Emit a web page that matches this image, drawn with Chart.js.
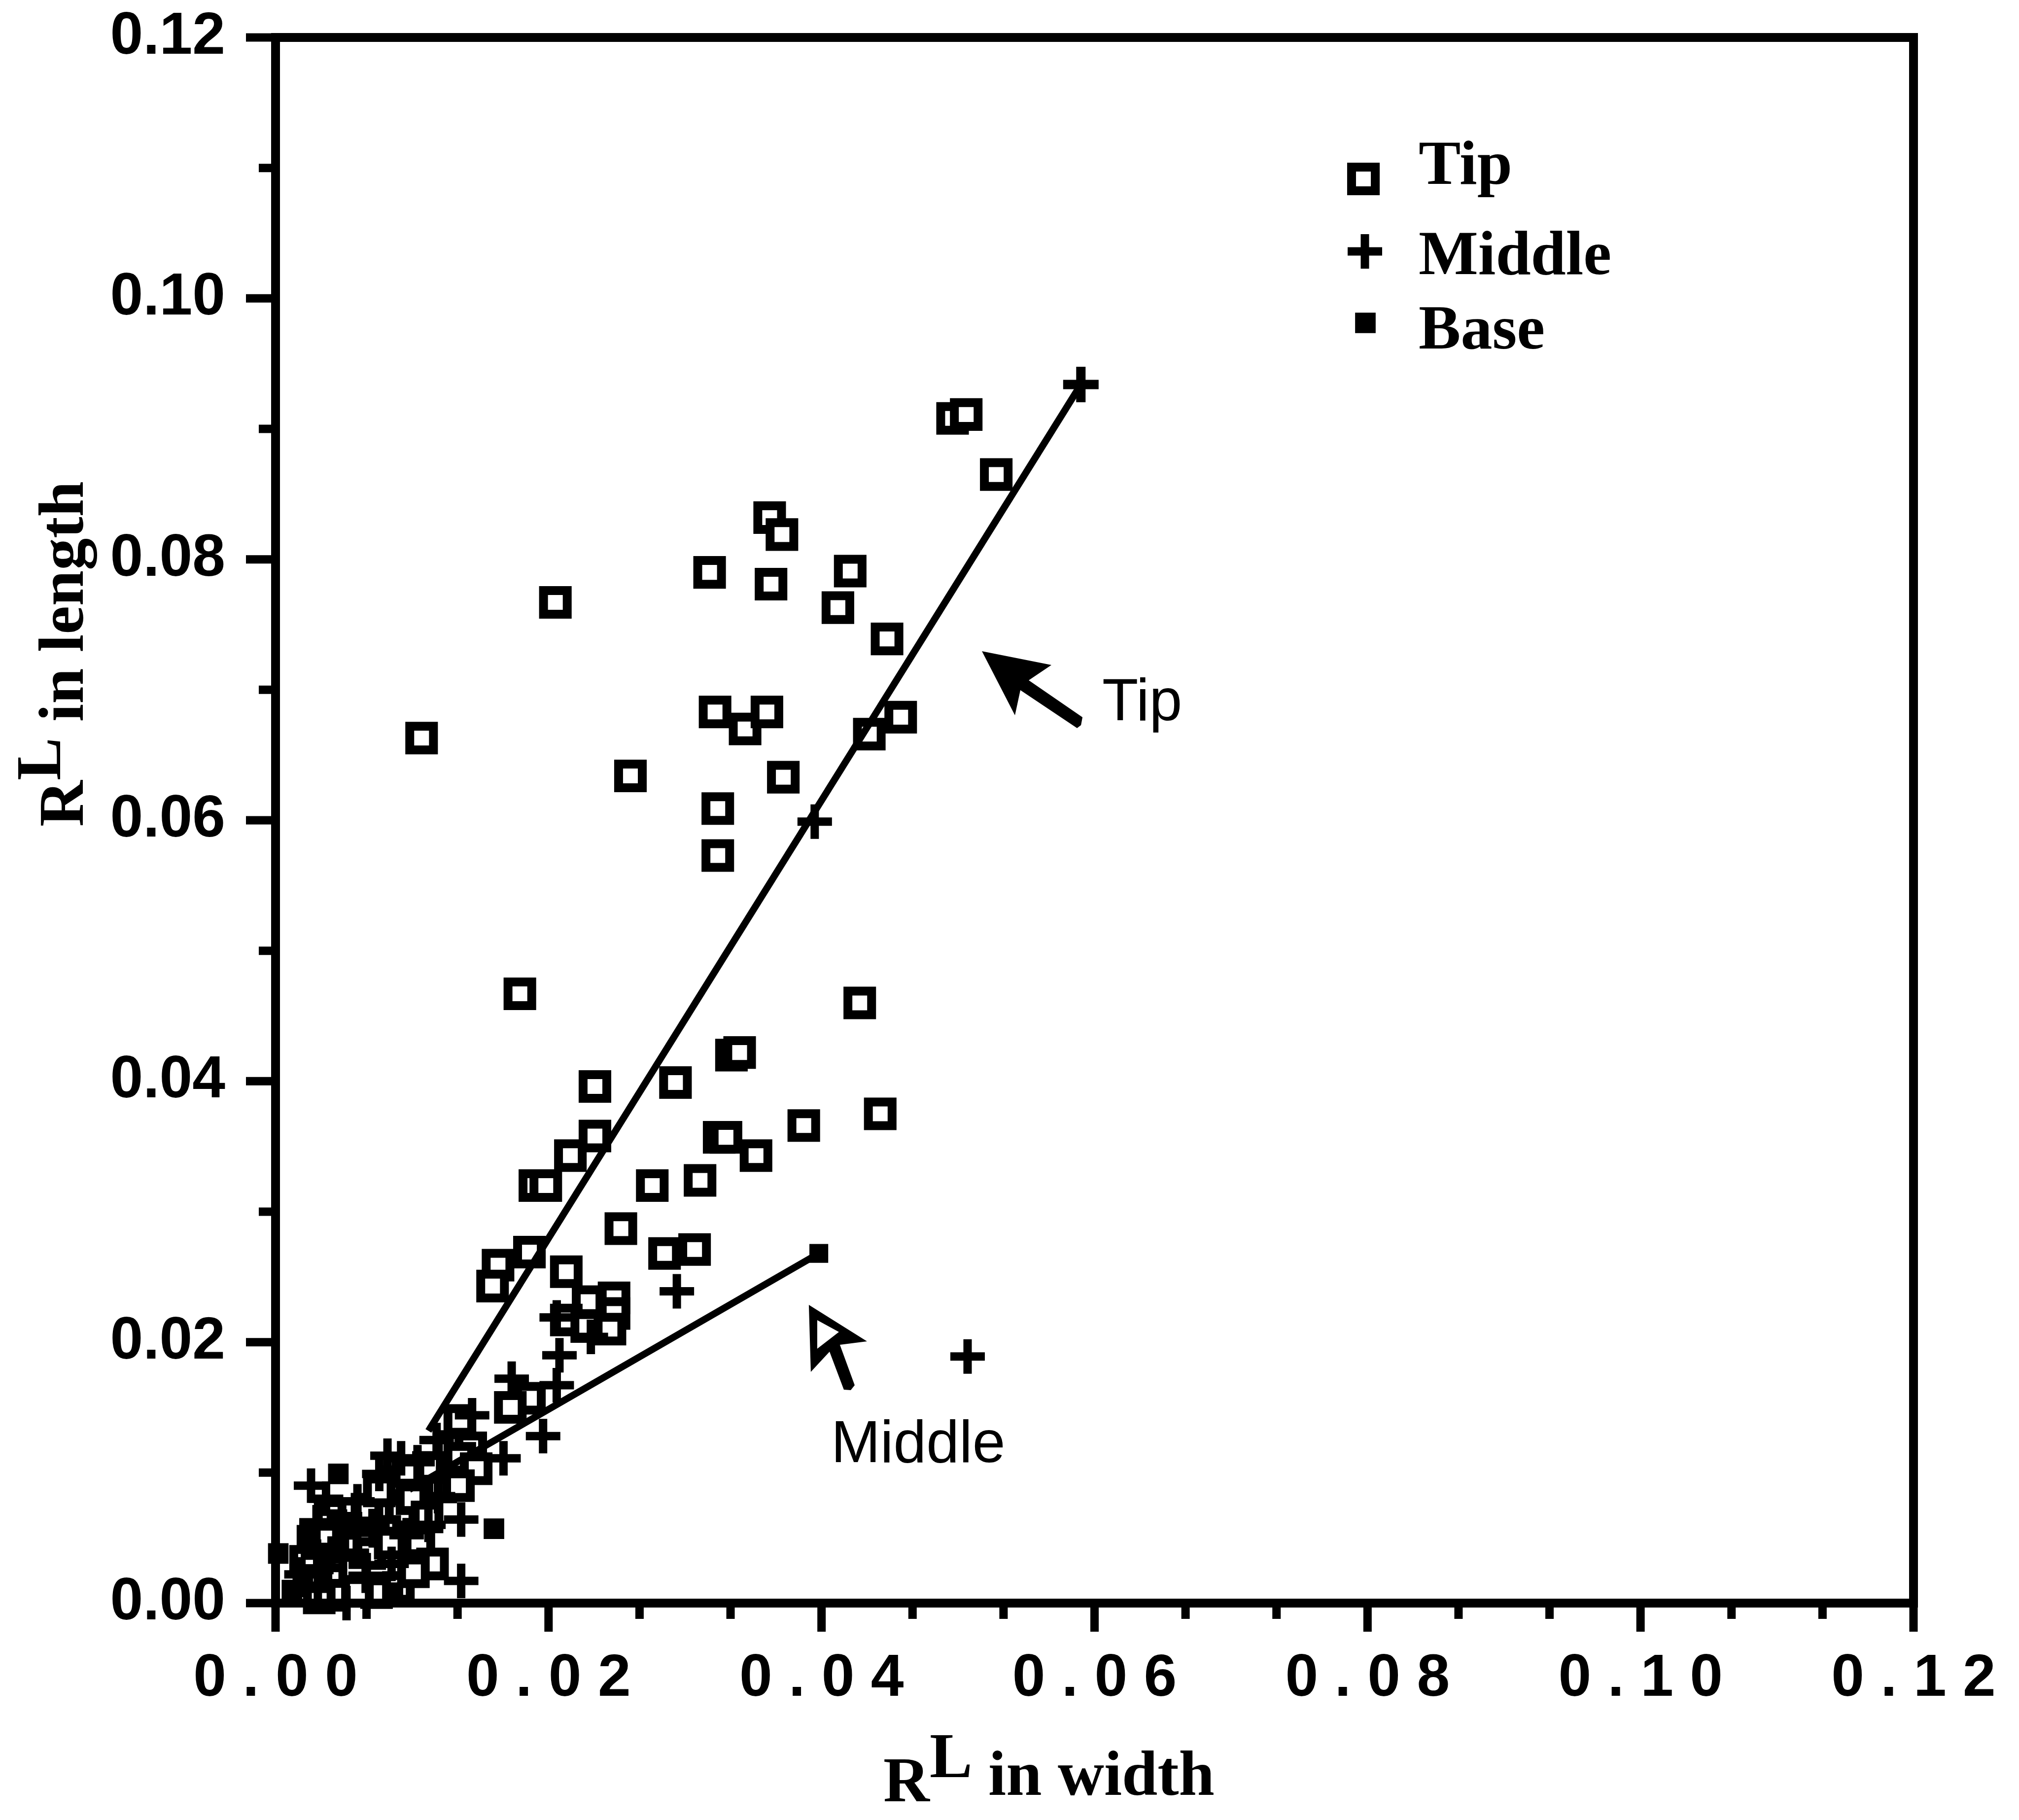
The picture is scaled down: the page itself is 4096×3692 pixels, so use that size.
<!DOCTYPE html>
<html>
<head>
<meta charset="utf-8">
<title>R^L in length vs R^L in width</title>
<script src="https://cdn.jsdelivr.net/npm/chart.js@4.4.1/dist/chart.umd.min.js"></script>
<style>
  html, body { margin: 0; padding: 0; background: #ffffff; }
  #wrap { width: 4096px; height: 3692px; }
  canvas { display: block; }
</style>
</head>
<body>
<div id="wrap"><canvas id="chart" width="4096" height="3692"></canvas></div>
<script>
// ---- R^L measured across the width (x) and along the length (y) ----
const seriesNames = ['Tip', 'Middle', 'Base'];

const tipWidth = [
  0.0107, 0.0205, 0.0318, 0.0362, 0.0371, 0.0363, 0.0421, 0.0412, 0.0448, 0.0496,
  0.0506, 0.0528, 0.0322, 0.0344, 0.0360, 0.0372, 0.0260, 0.0324, 0.0324, 0.0435,
  0.0458, 0.0179, 0.0428, 0.0334, 0.0340, 0.0234, 0.0293, 0.0234, 0.0216, 0.0190,
  0.0198, 0.0325, 0.0330, 0.0352, 0.0387, 0.0443, 0.0276, 0.0311, 0.0253, 0.0285,
  0.0307, 0.0163, 0.0159, 0.0186, 0.0213, 0.0248, 0.0248, 0.0229, 0.0213, 0.0228,
  0.0245, 0.0186, 0.0172, 0.0135, 0.0128, 0.0143, 0.0135, 0.0147, 0.0121, 0.0134,
  0.0089, 0.0092, 0.0067, 0.0105, 0.0064, 0.0051, 0.0042, 0.0069, 0.0027, 0.0047,
  0.0043, 0.0074, 0.0032, 0.0090, 0.0115, 0.0100, 0.0080, 0.0022, 0.0036, 0.0058,
  0.0084, 0.0101, 0.0060, 0.0111, 0.0076, 0.0040, 0.0112, 0.0097
];
const tipLength = [
  0.0663, 0.0767, 0.0790, 0.0832, 0.0819, 0.0781, 0.0791, 0.0763, 0.0739, 0.0908,
  0.0911, 0.0865, 0.0683, 0.0670, 0.0683, 0.0633, 0.0634, 0.0609, 0.0573, 0.0666,
  0.0679, 0.0467, 0.0460, 0.0420, 0.0422, 0.0396, 0.0399, 0.0358, 0.0343, 0.0320,
  0.0320, 0.0357, 0.0357, 0.0343, 0.0366, 0.0375, 0.0320, 0.0324, 0.0287, 0.0268,
  0.0271, 0.0259, 0.0243, 0.0269, 0.0254, 0.0234, 0.0222, 0.0231, 0.0217, 0.0212,
  0.0210, 0.0157, 0.0150, 0.0140, 0.0120, 0.0119, 0.0111, 0.0103, 0.0089, 0.0090,
  0.0093, 0.0069, 0.0072, 0.0047, 0.0045, 0.0043, 0.0045, 0.0038, 0.0017, 0.0018,
  0.0006, 0.0008, 0.0004, 0.0012, 0.0030, 0.0080, 0.0055, 0.0032, 0.0052, 0.0026,
  0.0046, 0.0024, 0.0009, 0.0066, 0.0086, 0.0068, 0.0104, 0.0101
];

const middleWidth = [
  0.0395, 0.0507, 0.0294, 0.0206, 0.0208, 0.0231, 0.0206, 0.0196, 0.0173, 0.0167,
  0.0144, 0.0136, 0.0136, 0.0092, 0.0104, 0.0076, 0.0060, 0.0037, 0.0019, 0.0052,
  0.0112, 0.0085, 0.0030, 0.0118, 0.0041, 0.0071, 0.0026, 0.0096, 0.0066, 0.0031,
  0.0082, 0.0119
];
const middleLength = [
  0.0599, 0.0189, 0.0239, 0.0219, 0.0190, 0.0204, 0.0167, 0.0128, 0.0172, 0.0111,
  0.0144, 0.0064, 0.0017, 0.0111, 0.0108, 0.0099, 0.0078, 0.0080, 0.0022, 0.0000,
  0.0060, 0.0030, 0.0062, 0.0125, 0.0038, 0.0059, 0.0090, 0.0052, 0.0021, 0.0011,
  0.0113, 0.0082
];

const baseWidth  = [0.0002, 0.0046, 0.0023, 0.0160, 0.0020, 0.0035, 0.0056, 0.0012, 0.0045, 0.0061, 0.0026, 0.0086];
const baseLength = [0.0038, 0.0099, 0.0052, 0.0057, 0.0022, 0.0030, 0.0062, 0.0010, 0.0064, 0.0034, 0.0041, 0.0008];

// Fitted trend segments (start, end)
const tipFitWidth     = [0.0112, 0.0590];
const tipFitLength    = [0.0132, 0.0934];
const middleFitWidth  = [0.0098, 0.0398];
const middleFitLength = [0.0087, 0.0268];

const xTickLabels = ['0.00', '0.02', '0.04', '0.06', '0.08', '0.10', '0.12'];
const yTickLabels = ['0.00', '0.02', '0.04', '0.06', '0.08', '0.10', '0.12'];

// Arrow call-outs, anchored at the arrow point (data units)
const arrowNotes = [
  { text: 'Tip',    at: [0.05175, 0.07296], style: 'solid' },
  { text: 'Middle', at: [0.03907, 0.02286], style: 'open' }
];

// ---- layout / style ----
const W = 4096, H = 3692;
const AREA = { left: 559, top: 76, right: 3882, bottom: 3252 };
const AXIS_MIN = 0, AXIS_MAX = 0.12, STEP = 0.02;
const INK = '#000000';
const TICK_FONT = { family: 'Liberation Sans', weight: 'bold', size: 120 };
const SERIF = '"Liberation Serif", "Times New Roman", serif';
const SANS = '"Liberation Sans", Arial, sans-serif';

const pts = (xs, ys) => xs.map((x, i) => ({ x, y: ys[i] }));
const spaced = s => s.split('').join(' ');

// invisible grid ticks only push the labels away from the axis
const hiddenGrid = len => ({
  display: true, drawOnChartArea: false, drawTicks: true, tickLength: len,
  color: 'rgba(0,0,0,0)', tickColor: 'rgba(0,0,0,0)'
});

const chromePlugin = {
  id: 'frameAndNotes',
  afterDatasetsDraw(chart) {
    const { ctx, chartArea: a, scales } = chart;
    const xs = scales.x, ys = scales.y;
    ctx.save();
    ctx.strokeStyle = INK;
    ctx.fillStyle = INK;

    // plot frame
    ctx.lineWidth = 18;
    ctx.lineJoin = 'miter';
    ctx.strokeRect(a.left, a.top, a.right - a.left, a.bottom - a.top);

    // tick marks: x has thirds between labels, y has halves
    ctx.lineWidth = 17;
    ctx.lineCap = 'butt';
    ctx.beginPath();
    const xDiv = 3, yDiv = 2;
    const nX = Math.round((AXIS_MAX - AXIS_MIN) / STEP) * xDiv;
    for (let i = 0; i <= nX; i++) {
      const v = AXIS_MIN + i * STEP / xDiv;
      const p = xs.getPixelForValue(v);
      const len = (i % xDiv === 0) ? 58 : 32;
      ctx.moveTo(p, a.bottom);
      ctx.lineTo(p, a.bottom + len);
    }
    const nY = Math.round((AXIS_MAX - AXIS_MIN) / STEP) * yDiv;
    for (let i = 0; i <= nY; i++) {
      const v = AXIS_MIN + i * STEP / yDiv;
      const p = ys.getPixelForValue(v);
      const len = (i % yDiv === 0) ? 60 : 34;
      ctx.moveTo(a.left, p);
      ctx.lineTo(a.left - len, p);
    }
    ctx.stroke();

    // arrow call-outs
    arrowNotes.forEach(n => {
      const tx = xs.getPixelForValue(n.at[0]);
      const ty = ys.getPixelForValue(n.at[1]);
      const poly = (pts, fill) => {
        ctx.beginPath();
        pts.forEach((p, i) => i ? ctx.lineTo(tx + p[0], ty + p[1]) : ctx.moveTo(tx + p[0], ty + p[1]));
        ctx.closePath();
        ctx.fillStyle = fill;
        ctx.fill();
      };
      ctx.font = `normal 120px ${SANS}`;
      ctx.textAlign = 'left';
      ctx.textBaseline = 'alphabetic';
      if (n.style === 'solid') {
        poly([[0, 0], [141, 28], [95, 59], [204, 134], [201, 150], [193, 156], [78, 79], [67, 130]], INK);
        ctx.fillStyle = INK;
        ctx.fillText(n.text, tx + 244, ty + 140);
      } else {
        poly([[0, 0], [118, 74], [63, 81], [93, 163], [85, 173], [71, 172], [42, 95], [4, 136]], INK);
        poly([[17, 31], [61, 55], [17, 89]], '#ffffff');
        ctx.fillStyle = INK;
        ctx.fillText(n.text, tx + 45, ty + 319);
      }
    });

    // axis titles  (R with superscript L)
    ctx.fillStyle = INK;
    ctx.font = `bold 130px ${SERIF}`;
    ctx.textAlign = 'left';
    ctx.textBaseline = 'alphabetic';
    let cx = 1792;
    ctx.fillText('R', cx, 3654); cx += ctx.measureText('R').width;
    ctx.fillText('L', cx, 3605); cx += ctx.measureText('L').width;
    ctx.fillText(' in width', cx, 3641);

    ctx.save();
    ctx.translate(168, 1677);
    ctx.rotate(-Math.PI / 2);
    let c = 0;
    ctx.fillText('R', c, 0); c += ctx.measureText('R').width;
    ctx.fillText('L', c, -46); c += ctx.measureText('L').width;
    ctx.fillText(' in length', c, 0);
    ctx.restore();

    // legend
    const rows = [
      { mx: 2766, my: 363, ty: 373 },
      { mx: 2769, my: 510, ty: 556 },
      { mx: 2770, my: 655, ty: 707 }
    ];
    rows.forEach((r, i) => {
      const ds = chart.data.datasets.find(d => d.label === seriesNames[i]);
      ctx.save();
      ctx.lineWidth = ds.borderWidth;
      ctx.strokeStyle = ds.borderColor;
      ctx.fillStyle = ds.backgroundColor;
      const opts = { pointStyle: ds.pointStyle, radius: ds.pointRadius, borderWidth: ds.borderWidth, rotation: 0 };
      if (Chart.helpers && Chart.helpers.drawPoint) {
        Chart.helpers.drawPoint(ctx, opts, r.mx, r.my);
      }
      ctx.restore();
      ctx.fillStyle = INK;
      ctx.font = `bold 128px ${SERIF}`;
      ctx.fillText(seriesNames[i], 2878, r.ty);
    });
    ctx.restore();
  }
};

new Chart(document.getElementById('chart'), {
  type: 'scatter',
  data: {
    datasets: [
      {
        label: 'Tip fit', data: pts(tipFitWidth, tipFitLength), showLine: true,
        borderColor: INK, borderWidth: 14, pointStyle: 'cross', pointRadius: [0, 36],
        pointBorderWidth: 19, pointBorderColor: INK, pointBackgroundColor: INK, order: 0, clip: false
      },
      {
        label: 'Middle fit', data: pts(middleFitWidth, middleFitLength), showLine: true,
        borderColor: INK, borderWidth: 14, pointStyle: 'rect', pointRadius: [0, 27],
        pointBorderWidth: 0, pointBorderColor: INK, pointBackgroundColor: INK, order: 0, clip: false
      },
      {
        label: 'Tip', data: pts(tipWidth, tipLength), pointStyle: 'rect', pointRadius: 34,
        borderWidth: 18, borderColor: INK, backgroundColor: '#ffffff', order: 3, clip: false
      },
      {
        label: 'Middle', data: pts(middleWidth, middleLength), pointStyle: 'cross', pointRadius: 35,
        borderWidth: 17, borderColor: INK, backgroundColor: INK, order: 2, clip: false
      },
      {
        label: 'Base', data: pts(baseWidth, baseLength), pointStyle: 'rect', pointRadius: 29.5,
        borderWidth: 0, borderColor: INK, backgroundColor: INK, order: 1, clip: false
      }
    ]
  },
  options: {
    responsive: false,
    maintainAspectRatio: false,
    devicePixelRatio: 1,
    animation: false,
    events: [],
    layout: { padding: { left: 0, top: AREA.top, right: W - AREA.right, bottom: 0 } },
    plugins: { legend: { display: false }, tooltip: { enabled: false }, title: { display: false } },
    scales: {
      x: {
        type: 'linear', position: 'bottom', min: AXIS_MIN, max: AXIS_MAX,
        grid: hiddenGrid(83),
        border: { display: false },
        title: { display: false },
        ticks: {
          stepSize: STEP, autoSkip: false, maxRotation: 0, minRotation: 0,
          padding: 0, color: INK, font: TICK_FONT,
          callback: v => spaced(xTickLabels[Math.round(v / STEP)] || '')
        },
        afterFit: s => { s.height = H - AREA.bottom; }
      },
      y: {
        type: 'linear', position: 'left', min: AXIS_MIN, max: AXIS_MAX,
        grid: hiddenGrid(102),
        border: { display: false },
        title: { display: false },
        ticks: {
          stepSize: STEP, autoSkip: false, padding: 0, color: INK, font: TICK_FONT,
          callback: v => yTickLabels[Math.round(v / STEP)] || ''
        },
        afterFit: s => { s.width = AREA.left; }
      }
    }
  },
  plugins: [chromePlugin]
});
</script>
</body>
</html>
